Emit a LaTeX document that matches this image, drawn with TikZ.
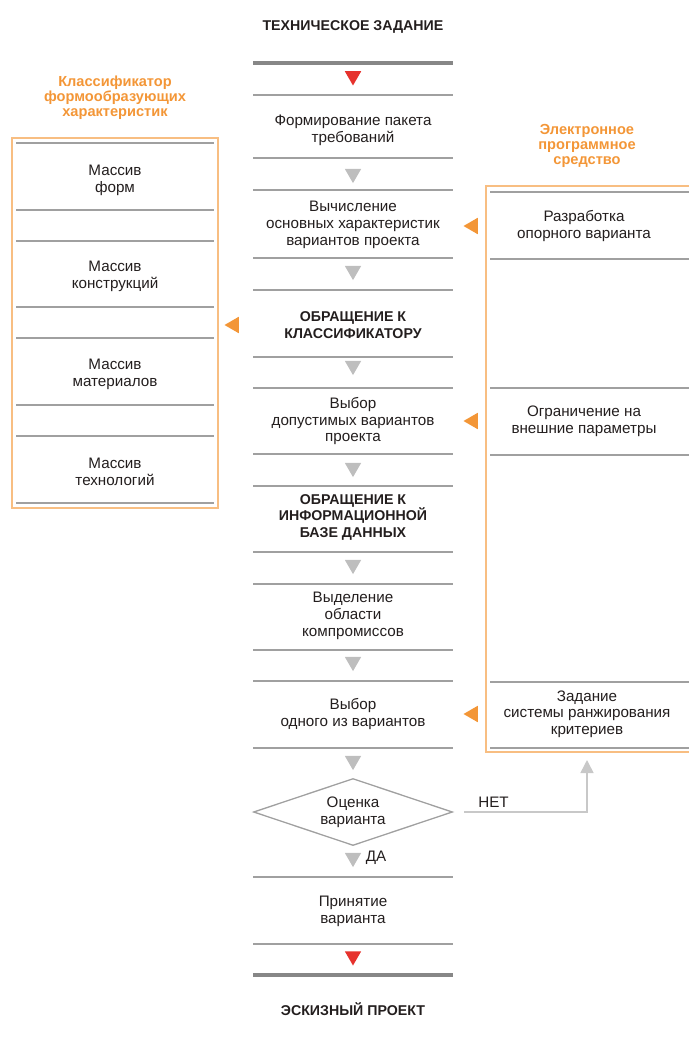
\documentclass[tikz,border=0pt]{standalone}
\usepackage{fontspec}
\setmainfont{Liberation Sans}
\usetikzlibrary{arrows.meta,positioning,shapes.geometric}
\definecolor{lineGray}{RGB}{160,160,160}
\definecolor{darkGray}{RGB}{135,135,135}
\definecolor{triGray}{RGB}{190,190,190}
\definecolor{netGray}{RGB}{200,200,200}
\definecolor{mRed}{RGB}{230,50,45}
\definecolor{mOrange}{RGB}{243,150,55}
\definecolor{boxOrange}{RGB}{248,190,130}
\definecolor{txtDark}{RGB}{35,30,30}

\begin{document}
\begin{tikzpicture}[x=1pt, y=-1pt,
    txt/.style={align=center, font=\fontsize{15.2}{16.7}\selectfont, text=txtDark, inner sep=0pt},
    head/.style={txt, font=\fontsize{14.2}{16.5}\selectfont\bfseries},
    ttl/.style={align=center, font=\fontsize{14.6}{15}\selectfont\bfseries, text=mOrange, inner sep=0pt},
    sepline/.style={lineGray, line width=1.6pt},
    thickline/.style={darkGray, line width=3.5pt},
    downtri/.style={regular polygon, regular polygon sides=3, shape border rotate=180,
      fill=triGray, inner sep=0pt, minimum size=19pt},
    lefttri/.style={regular polygon, regular polygon sides=3, shape border rotate=90,
      fill=mOrange, inner sep=0pt, minimum size=19pt},
    dec/.style={txt, diamond, aspect=3, draw=lineGray, line width=1.3pt,
      minimum width=199pt, minimum height=67pt}]
  \useasboundingbox (0,0) rectangle (689,1043);

  % --- central column ---
  \node[head] (tz) at (353,27) {ТЕХНИЧЕСКОЕ ЗАДАНИЕ};
  \node[txt] (fpt) at (353,130) {Формирование пакета\\требований};
  \node[txt] (vyc) at (353,225) {Вычисление\\основных характеристик\\вариантов проекта};
  \node[head] (obk) at (353,325) {ОБРАЩЕНИЕ К\\КЛАССИФИКАТОРУ};
  \node[txt] (vdv) at (353,421) {Выбор\\допустимых вариантов\\проекта};
  \node[head] (obd) at (353,517) {ОБРАЩЕНИЕ К\\ИНФОРМАЦИОННОЙ\\БАЗЕ ДАННЫХ};
  \node[txt] (vok) at (353,616) {Выделение\\области\\компромиссов};
  \node[txt] (vov) at (353,714) {Выбор\\одного из вариантов};
  \node[dec] (ocv) at (353,812) {Оценка\\варианта};
  \node[txt] (prv) at (353,911) {Принятие\\варианта};
  \node[head] (ep) at (353,1009) {ЭСКИЗНЫЙ ПРОЕКТ};

  \draw[thickline] (253,63) -- (453,63);
  \draw[thickline] (253,975) -- (453,975);
  \foreach \y in {95,158,190,258,290,357,388,454,486,552,584,650,681,748,877,944}
    \draw[sepline] (253,\y) -- (453,\y);

  \foreach \y [count=\i] in {176,273,368,470,567,664,763,860}
    \node[downtri] (t\i) at (353,\y-2.4) {};
  \node[downtri, fill=mRed] (r1) at (353,76) {};
  \node[downtri, fill=mRed] (r2) at (353,956) {};
  \node[txt, right=7pt of t8] (da) {ДА};

  % --- classifier ---
  \node[ttl] (klass) at (115,98) {Классификатор\\формообразующих\\характеристик};
  \draw[boxOrange, line width=1.3pt] (12,138) rectangle (218,508);
  \foreach \y in {143,210,241,307,338,405,436,503}
    \draw[sepline] (16,\y) -- (214,\y);
  \node[txt] (mf) at (115,180) {Массив\\форм};
  \node[txt] (mk) at (115,276) {Массив\\конструкций};
  \node[txt] (mm) at (115,374) {Массив\\материалов};
  \node[txt] (mt) at (115,472) {Массив\\технологий};
  \node[lefttri] (a1) at (234,325) {};

  % --- software ---
  \node[ttl] (eps) at (587,146) {Электронное\\программное\\средство};
  \draw[boxOrange, line width=1.3pt] (689,186) -- (486,186) -- (486,752) -- (689,752);
  \foreach \y in {192,259,388,455,682,748}
    \draw[sepline] (490,\y) -- (689,\y);
  \node[txt] (rov) at (584,226) {Разработка\\опорного варианта};
  \node[txt] (onp) at (584,421) {Ограничение на\\внешние параметры};
  \node[txt] (zsr) at (587,714) {Задание\\системы ранжирования\\критериев};
  \foreach \y [count=\i from 2] in {226,421,714}
    \node[lefttri] (a\i) at (473,\y) {};

  % --- return branch ---
  \coordinate (netup) at (587,760);
  \draw[netGray, line width=1.6pt, -{Triangle[width=13pt,length=13pt]}]
    ([xshift=11pt]ocv.east) -| (netup);
  \node[txt, anchor=south west] (net) at ([xshift=25pt,yshift=4pt]ocv.east) {НЕТ};
\end{tikzpicture}
\end{document}
